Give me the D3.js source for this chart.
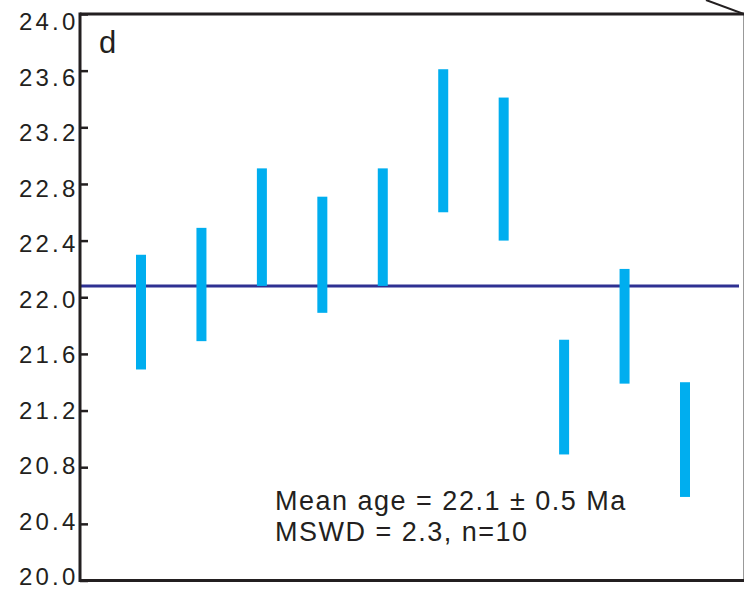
<!DOCTYPE html>
<html><head><meta charset="utf-8">
<script src="https://cdn.jsdelivr.net/npm/d3@7"></script>
<style>body{margin:0;background:#fff}svg{display:block}</style>
</head><body>
<script>
const spots = [1,2,3,4,5,6,7,8,9,10];
const upper = [22.30,22.49,22.91,22.71,22.91,23.61,23.41,21.70,22.20,21.40];
const lower = [21.49,21.69,22.08,21.89,22.08,22.60,22.40,20.89,21.39,20.59];
const meanAge = 22.08;
const yTicks = [20.0,20.4,20.8,21.2,21.6,22.0,22.4,22.8,23.2,23.6,24.0];
const panelLabel = "d";
const textLines = ["Mean age = 22.1 \u00b1 0.5 Ma","MSWD = 2.3, n=10"];

const W=744,H=591;
const svg=d3.select("body").append("svg").attr("width",W).attr("height",H);
const L=80,R=743.5,T=14,B=580.5;
const y=d3.scaleLinear().domain([20,24]).range([B,T]);
const yLab=d3.scaleLinear().domain([20,24]).range([577,22]);
const x=d3.scaleLinear().domain([1,10]).range([141,685]);
const ink="#231f20";
const font="Liberation Sans, Arial, sans-serif";

// mean line
svg.append("line").attr("x1",L).attr("x2",739).attr("y1",y(meanAge)).attr("y2",y(meanAge))
  .attr("stroke","#2e3192").attr("stroke-width",3);

// bars
svg.selectAll("rect.bar").data(spots).join("rect").attr("class","bar")
  .attr("x",d=>x(d)-5).attr("width",10)
  .attr("y",(d,i)=>y(upper[i])).attr("height",(d,i)=>y(lower[i])-y(upper[i]))
  .attr("fill","#00aeef");

// axis ticks (inside)
const ax=d3.axisLeft(y).tickValues(yTicks).tickFormat("").tickSizeInner(-8).tickSizeOuter(0);
const g=svg.append("g").attr("transform",`translate(${L},0)`).call(ax);
g.select(".domain").remove();
g.selectAll(".tick line").attr("stroke",ink).attr("stroke-width",2.5);

// tick labels
const fmt=d3.format(".1f");
svg.selectAll("text.ylab").data(yTicks).join("text").attr("class","ylab")
  .attr("x",78.5).attr("y",d=>yLab(d)).attr("dy","0.35em").attr("text-anchor","end")
  .text(d=>fmt(d)).attr("fill",ink).attr("font-family",font)
  .attr("font-size",24).attr("letter-spacing","3.2px");

// frame
svg.append("line").attr("x1",R).attr("x2",R).attr("y1",T).attr("y2",B).attr("stroke","#999").attr("stroke-width",1);
svg.append("line").attr("x1",L).attr("x2",W).attr("y1",T).attr("y2",T).attr("stroke",ink).attr("stroke-width",3);
svg.append("line").attr("x1",L).attr("x2",W).attr("y1",B).attr("y2",B).attr("stroke",ink).attr("stroke-width",3);
svg.append("line").attr("x1",L).attr("x2",L).attr("y1",T-1.5).attr("y2",B+1.5).attr("stroke",ink).attr("stroke-width",3);
svg.append("line").attr("x1",706).attr("x2",744).attr("y1",0).attr("y2",14).attr("stroke",ink).attr("stroke-width",2);

// panel label
svg.append("text").attr("x",99).attr("y",53).text(panelLabel).attr("fill",ink)
  .attr("font-family",font).attr("font-size",31);

// stats text
svg.selectAll("text.stat").data(textLines).join("text").attr("class","stat")
  .attr("x",275).attr("y",(d,i)=>510+i*31).text(d=>d).attr("fill",ink)
  .attr("font-family",font).attr("font-size",27).attr("letter-spacing","1.5px");
</script>
</body></html>
